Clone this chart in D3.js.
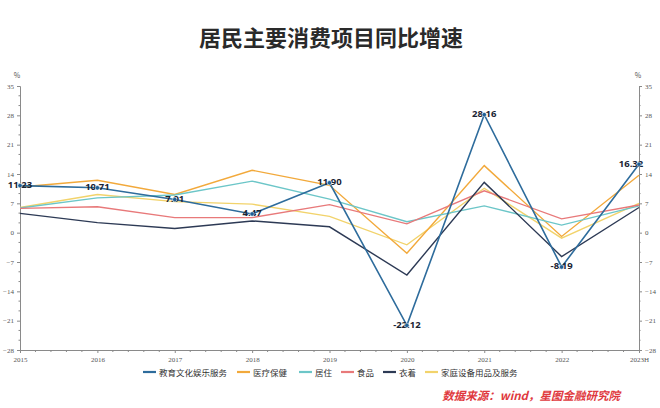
<!DOCTYPE html>
<html><head><meta charset="utf-8">
<script src="https://cdn.jsdelivr.net/npm/d3@7/dist/d3.min.js"></script>
<style>
body{margin:0;background:#fff;}
svg{display:block;font-family:"Noto Sans CJK SC","Noto Sans",sans-serif;}
</style></head>
<body>
<script>
const years = ["2015","2016","2017","2018","2019","2020","2021","2022","2023H"];
const seriesNames = ["教育文化娱乐服务","医疗保健","居住","食品","衣着","家庭设备用品及服务"];
const seriesColors = ["#2e6c9c","#f2a93b","#6cc6c8","#e8797a","#2d3a55","#f2d36b"];
const eduValues   = [11.23,10.71,7.91,4.47,11.90,-22.12,28.16,-8.19,16.32];
const medValues   = [10.9,12.5,9.1,14.9,11.3,-4.9,16.0,-0.9,13.7];
const houseValues = [5.9,8.3,9.0,12.3,8.0,2.6,6.4,1.8,6.4];
const foodValues  = [5.8,6.2,3.6,3.6,6.7,2.1,10.0,3.3,6.6];
const clothValues = [4.6,2.4,1.0,2.8,1.4,-10.1,12.0,-5.7,6.0];
const homeValues  = [6.0,9.1,7.4,6.8,3.9,-2.9,10.6,-1.3,7.0];
const yTicks = [35,28,21,14,7,0,-7,-14,-21,-28];

const allSeries = [eduValues,medValues,houseValues,foodValues,clothValues,homeValues];
const W=660,H=408;
const svg=d3.select("body").append("svg").attr("width",W).attr("height",H);

svg.append("text").attr("x",331).attr("y",46).attr("text-anchor","middle")
  .attr("font-size",22).attr("font-weight","bold").attr("fill","#2a2a2a").text("居民主要消费项目同比增速");

const x=d3.scalePoint().domain(years).range([20,639]);
const y=d3.scaleLinear().domain([-28,35]).range([350,86]);

const minorY=[];
for(let v=-28;v<35;v+=7){minorY.push(v+7/3,v+14/3);}
const minorX=[];
for(let i=0;i<years.length-1;i++){for(let k=1;k<5;k++){minorX.push(x(years[i])+k*(x(years[1])-x(years[0]))/5);}}

const axisColor="#8a8a8a";
const gL=svg.append("g").attr("transform","translate(20,0)")
  .call(d3.axisLeft(y).tickValues(yTicks).tickSize(3).tickPadding(3));
const gR=svg.append("g").attr("transform","translate(639,0)")
  .call(d3.axisRight(y).tickValues(yTicks).tickSize(3).tickPadding(3));
const gB=svg.append("g").attr("transform","translate(0,350)")
  .call(d3.axisBottom(x).tickSize(3).tickPadding(4));
[gL,gR,gB].forEach(g=>{
  g.select(".domain").attr("stroke",axisColor);
  g.selectAll(".tick line").attr("stroke",axisColor);
  g.selectAll("text").attr("fill","#555").attr("font-size",7).attr("font-family","Liberation Serif, serif");
});
svg.append("g").selectAll("line").data(minorY).join("line")
  .attr("x1",18.5).attr("x2",20).attr("y1",d=>y(d)).attr("y2",d=>y(d)).attr("stroke",axisColor);
svg.append("g").selectAll("line").data(minorY).join("line")
  .attr("x1",639).attr("x2",640.5).attr("y1",d=>y(d)).attr("y2",d=>y(d)).attr("stroke",axisColor);
svg.append("g").selectAll("line").data(minorX).join("line")
  .attr("x1",d=>d).attr("x2",d=>d).attr("y1",350).attr("y2",352).attr("stroke",axisColor);
svg.append("text").attr("x",17).attr("y",78).attr("font-size",7).attr("fill","#555").attr("text-anchor","middle").text("%");
svg.append("text").attr("x",638).attr("y",78).attr("font-size",7).attr("fill","#555").attr("text-anchor","middle").text("%");

const line=d3.line().x((d,i)=>x(years[i])).y(d=>y(d));
const order=[5,1,2,3,4,0];
order.forEach(si=>{
  svg.append("path").datum(allSeries[si]).attr("d",line).attr("fill","none")
    .attr("stroke",seriesColors[si]).attr("stroke-width",si===0?1.6:1.4);
});
svg.append("g").selectAll("text").data(eduValues).join("text")
  .attr("x",(d,i)=>Math.min(x(years[i]),631)).attr("y",d=>y(d)+2.5)
  .attr("text-anchor","middle").attr("font-size",9.5).attr("font-weight","bold")
  .attr("fill","#1a2433").attr("font-family","Open Sans, sans-serif")
  .text(d=>d.toFixed(2));
svg.append("g").selectAll("circle").data(eduValues).join("circle")
  .attr("cx",(d,i)=>x(years[i])).attr("cy",d=>y(d)).attr("r",2.2)
  .attr("fill","#1f5f95").attr("stroke","#fff").attr("stroke-width",0.5);

const legendX=[143,237,299,341,383,425];
const lg=svg.append("g");
seriesNames.forEach((n,i)=>{
  lg.append("line").attr("x1",legendX[i]).attr("x2",legendX[i]+13).attr("y1",372).attr("y2",372)
    .attr("stroke",seriesColors[i]).attr("stroke-width",2.2);
  lg.append("text").attr("x",legendX[i]+16).attr("y",375.5).attr("font-size",8.5).attr("fill","#333").text(n);
});

svg.append("text").attr("x",620).attr("y",400).attr("text-anchor","end")
  .attr("font-size",11.5).attr("font-weight","bold").attr("font-style","italic")
  .attr("fill","#e0393e").text("数据来源：wind，星图金融研究院");
</script>
</body></html>
